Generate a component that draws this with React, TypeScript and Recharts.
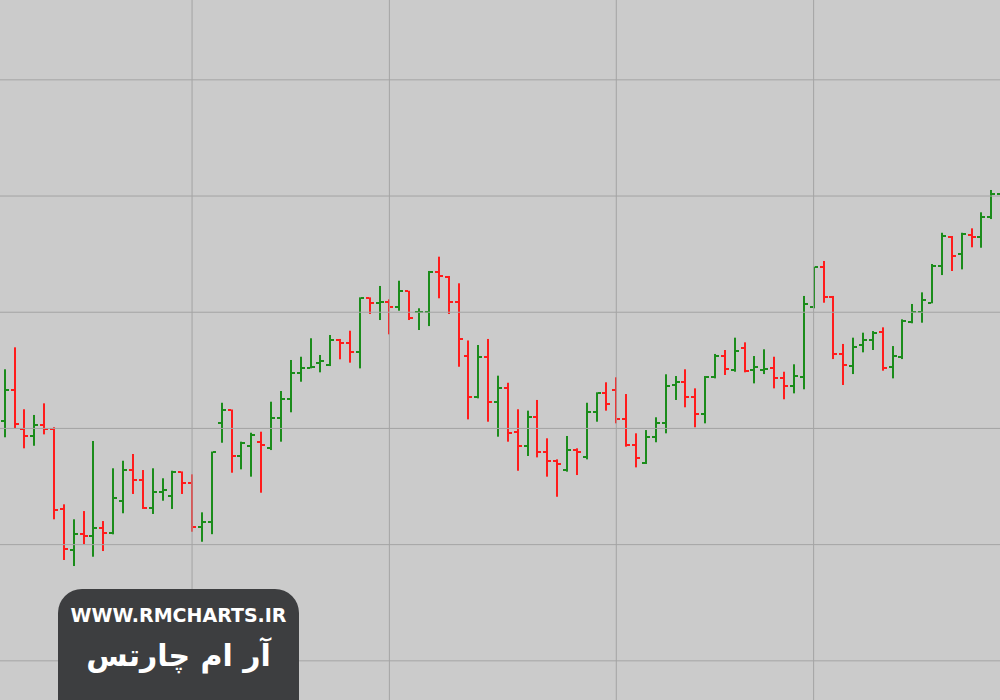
import { ComposedChart, Bar, XAxis, YAxis, ReferenceLine } from "recharts";

// OHLC values, one entry per session
const opens = [
  110.66, 113.31, 109.92, 109.35, 110.29, 109.92, 103.04, 99.54, 100.89, 100.74,
  101.4, 100.97, 103.75, 106.42, 105.56, 103.13, 104.55, 104.21, 106.22, 105.28,
  101.54, 101.97, 110.49, 111.59, 107.63, 108.49, 108.86, 108.29, 110.87, 112.51,
  114.74, 115.23, 115.66, 115.46, 117.61, 117.33, 116.55, 121.2, 120.79, 120.91,
  120.48, 121.83, 119.99, 120.05, 123.49, 123.06, 120.91, 116.23, 112.73, 116.12,
  112.3, 113.45, 109.72, 108.49, 111.01, 108.0, 107.2, 106.42, 108.14, 107.57,
  111.44, 113.07, 113.31, 110.81, 108.57, 107.0, 109.24, 110.44, 113.74, 114.02,
  112.73, 111.24, 114.45, 116.23, 115.03, 116.9, 115.03, 115.03, 115.23, 114.31,
  113.65, 114.45, 120.48, 123.87, 121.34, 116.38, 115.4, 117.18, 117.61, 118.32,
  115.26, 116.17, 119.18, 120.05, 120.82, 123.98, 126.5, 124.98, 126.65, 126.45,
  128.17, 130.17,
];
const highs = [
  115.09, 116.98, 111.65, 111.16, 112.16, 110.1, 103.47, 102.18, 102.89, 108.92,
  102.03, 106.57, 107.22, 107.8, 106.42, 106.57, 105.71, 106.36, 106.3, 106.05,
  102.78, 108.01, 112.21, 111.63, 108.86, 109.63, 109.72, 112.3, 113.22, 115.89,
  116.17, 117.76, 116.32, 118.04, 117.7, 118.41, 121.28, 121.28, 122.26, 121.11,
  122.71, 121.85, 120.34, 123.55, 124.78, 123.12, 122.49, 117.57, 117.18, 117.7,
  114.54, 113.93, 111.65, 111.53, 112.45, 109.15, 107.34, 109.35, 108.29, 112.21,
  113.11, 113.97, 114.4, 112.96, 109.58, 109.86, 110.96, 114.66, 114.51, 115.09,
  113.45, 114.51, 116.41, 116.75, 117.81, 117.41, 116.23, 116.81, 116.17, 114.88,
  115.52, 121.4, 123.92, 124.41, 121.4, 117.27, 117.81, 118.24, 118.38, 118.7,
  117.09, 119.39, 120.71, 121.71, 124.15, 126.84, 126.56, 126.84, 127.22, 128.6,
  130.52, 131.38,
];
const lows = [
  109.24, 110.01, 108.29, 108.51, 109.49, 102.18, 98.68, 98.16, 100.03, 98.96,
  99.45, 100.89, 102.7, 104.36, 103.07, 102.64, 103.78, 103.07, 104.36, 101.11,
  100.25, 100.9, 108.77, 106.19, 106.48, 105.85, 104.47, 108.14, 108.86, 111.39,
  114.02, 115.17, 114.83, 115.37, 115.95, 115.66, 115.17, 119.85, 119.33, 118.1,
  120.13, 119.33, 118.47, 118.81, 121.2, 119.85, 115.31, 110.78, 112.59, 110.58,
  109.29, 108.86, 106.36, 107.63, 107.51, 105.85, 104.12, 106.28, 105.99, 107.34,
  110.58, 111.53, 110.44, 108.43, 106.65, 106.94, 108.81, 109.58, 112.45, 111.82,
  110.1, 110.44, 114.31, 114.6, 114.88, 114.83, 113.88, 114.68, 113.45, 112.51,
  113.02, 113.37, 120.34, 120.82, 115.97, 113.74, 114.68, 116.55, 116.75, 114.97,
  114.31, 115.97, 119.05, 119.1, 120.77, 123.2, 123.55, 123.69, 125.59, 125.55,
  128.02, 128.8,
];
const closes = [
  113.31, 110.38, 109.35, 110.29, 109.92, 102.98, 99.6, 100.89, 100.74, 101.4,
  100.97, 104.04, 106.42, 105.56, 103.13, 104.55, 104.66, 106.28, 105.28, 101.54,
  101.92, 107.95, 111.59, 107.63, 108.72, 109.43, 108.57, 110.87, 112.51, 114.74,
  115.23, 115.31, 115.83, 117.61, 117.38, 116.55, 121.2, 120.82, 120.88, 120.48,
  121.83, 119.48, 120.05, 123.49, 123.12, 120.91, 117.7, 112.73, 116.12, 112.3,
  113.45, 109.63, 108.49, 111.01, 108.0, 107.2, 106.91, 108.14, 108.0, 111.44,
  113.07, 112.08, 110.81, 108.57, 107.43, 109.24, 110.44, 113.68, 114.02, 112.73,
  111.24, 114.4, 116.23, 115.11, 116.69, 114.94, 115.31, 115.14, 114.31, 113.65,
  114.51, 120.71, 123.87, 121.34, 116.38, 115.46, 116.98, 117.61, 118.24, 115.17,
  116.23, 119.27, 120.05, 121.05, 123.98, 126.56, 124.84, 126.73, 126.45, 128.17,
  130.15, 130.95,
];

// grid positions
const priceLines = [90, 100, 110, 120, 130, 140];
const sessionLines = [19, 39, 62, 82];

const data = opens.map((o, i) => ({
  i,
  open: o,
  high: highs[i],
  low: lows[i],
  close: closes[i],
  range: [lows[i], highs[i]],
}));

const GREEN = "#1b8c1b";
const RED = "#ff1c1c";

const OhlcBar = (props: any) => {
  const { x, y, width, height, payload } = props;
  if (x == null || y == null) return null;
  const top = Math.min(y, y + height);
  const h = Math.abs(height);
  const span = payload.high - payload.low || 1;
  const toY = (v: number) => top + ((payload.high - v) / span) * h;
  const cx = Math.round(x + width / 2);
  const color = payload.close >= payload.open ? GREEN : RED;
  const oy = Math.round(toY(payload.open));
  const cy = Math.round(toY(payload.close));
  return (
    <g fill={color}>
      <rect x={cx - 1} y={top} width={2} height={Math.max(h, 2)} />
      <rect x={cx - 4} y={oy - 1} width={3} height={2} />
      <rect x={cx + 1} y={cy - 1} width={3} height={2} />
    </g>
  );
};

export default function App() {
  return (
    <div style={{ position: "relative", width: 1000, height: 700, overflow: "hidden", background: "#cbcbcb" }}>
      <style>{"body{margin:0}"}</style>
      <ComposedChart width={1000} height={700} data={data} margin={{ top: 0, right: 0, bottom: 0, left: 0 }}>
        <XAxis dataKey="i" type="number" domain={[-0.466, 100.892]} hide allowDataOverflow />
        <YAxis type="number" domain={[86.63, 146.87]} hide allowDataOverflow />
        {priceLines.map((v) => (
          <ReferenceLine key={"p" + v} y={v} stroke="#a4a4a4" strokeWidth={1} />
        ))}
        {sessionLines.map((v) => (
          <ReferenceLine key={"s" + v} x={v} stroke="#a4a4a4" strokeWidth={1} />
        ))}
        <Bar dataKey="range" barSize={4} shape={OhlcBar} isAnimationActive={false} />
      </ComposedChart>
      <div
        style={{
          position: "absolute",
          left: 58,
          top: 589,
          width: 241,
          height: 140,
          borderRadius: 24,
          background: "#3d3e40",
          color: "#ffffff",
          textAlign: "center",
        }}
      >
        <div style={{ fontFamily: "DejaVu Sans", fontWeight: 700, fontSize: 19, marginTop: 15, lineHeight: "22px" }}>
          WWW.RMCHARTS.IR
        </div>
        <div dir="rtl" style={{ fontFamily: "DejaVu Sans", fontWeight: 700, fontSize: 30, marginTop: 10, lineHeight: "40px" }}>
          آر ام چارتس
        </div>
      </div>
    </div>
  );
}
